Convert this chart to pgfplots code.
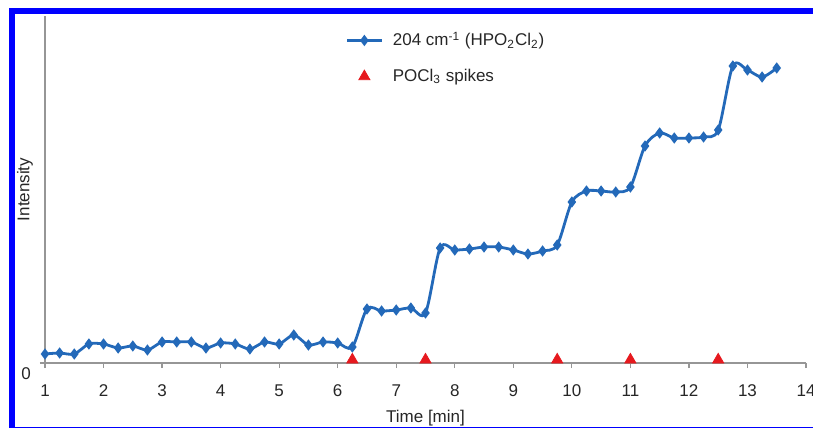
\documentclass[border=0pt]{standalone}
\usepackage{pgfplots}
\pgfplotsset{compat=1.18}
\usepackage{fontspec}
\setmainfont{Liberation Sans}
\definecolor{serblue}{RGB}{35,105,185}
\definecolor{spikered}{RGB}{230,25,30}
\definecolor{axgray}{RGB}{150,150,150}
\definecolor{framebl}{RGB}{0,0,255}
\begin{document}
\begin{tikzpicture}
\path[use as bounding box] (-22.5pt,-32.5pt) rectangle (384pt,181.5pt);
\begin{axis}[
  at={(0pt,0pt)}, anchor=south west,
  scale only axis,
  width=380.5pt, height=173.5pt,
  xmin=1, xmax=14, ymin=0, ymax=347,
  axis x line=bottom, axis y line=left,
  axis line style={axgray, line width=0.7pt, -},
  xtick={1,2,...,14}, ytick={0},
  tick align=outside,
  major tick length=2.5pt,
  tick style={axgray, line width=0.6pt},
  /pgf/number format/assume math mode=true,
  tick label style={font=\fontsize{8.5}{10}\selectfont, text=black!85},
  xticklabel style={yshift=-5pt},
  yticklabel style={yshift=-5.5pt, xshift=-1pt},
  label style={font=\fontsize{8.5}{10}\selectfont, text=black!85},
  xlabel={Time [min]},
  ylabel={Intensity},
  xlabel style={at={(axis description cs:0.5,0)}, anchor=center, yshift=-27.5pt},
  ylabel style={at={(axis description cs:-0.0263,0.5)}, anchor=center},
  clip=false,
  legend style={at={(axis description cs:0.387,0.978)}, anchor=north west,
    draw=none, fill=none, font=\fontsize{8.5}{10}\selectfont,
    row sep=6pt, text=black!85},
  legend cell align=left,
  /tikz/every odd column/.append style={column sep=3pt},
]
\addplot[serblue, line width=1.4pt, smooth, tension=0.5, mark=diamond*, mark size=1.7pt,
  mark options={fill=serblue, draw=serblue}] coordinates {
(1.00,9) (1.25,10) (1.50,9) (1.75,19) (2.00,19) (2.25,15) (2.50,17) (2.75,13)
(3.00,21) (3.25,21) (3.50,21) (3.75,15) (4.00,20) (4.25,19) (4.50,14) (4.75,21)
(5.00,19) (5.25,28) (5.50,18) (5.75,21) (6.00,20) (6.25,16) (6.50,54) (6.75,52)
(7.00,53) (7.25,55) (7.50,50) (7.75,115) (8.00,113) (8.25,114) (8.50,116) (8.75,116)
(9.00,113) (9.25,109) (9.50,112) (9.75,118) (10.00,161) (10.25,172) (10.50,172)
(10.75,171) (11.00,176) (11.25,217) (11.50,230) (11.75,225) (12.00,225) (12.25,226)
(12.50,233) (12.75,297) (13.00,293) (13.25,286) (13.50,295)
};
\addlegendentry{204 cm\textsuperscript{-1} (HPO\textsubscript{2}Cl\textsubscript{2})}
\addplot[only marks, mark=triangle*, mark size=3.2pt,
  mark options={fill=spikered, draw=spikered}] coordinates {
(6.25,3.2) (7.5,3.2) (9.75,3.2) (11.0,3.2) (12.5,3.2)
};
\addlegendentry{POCl\textsubscript{3} spikes}
\end{axis}
\fill[framebl] (-18pt,-32.5pt) rectangle (-15pt,177.5pt);
\fill[framebl] (-18pt,174.5pt) rectangle (384pt,177.5pt);
\fill[framebl] (-18pt,-32.5pt) rectangle (384pt,-31.8pt);
\end{tikzpicture}
\end{document}
